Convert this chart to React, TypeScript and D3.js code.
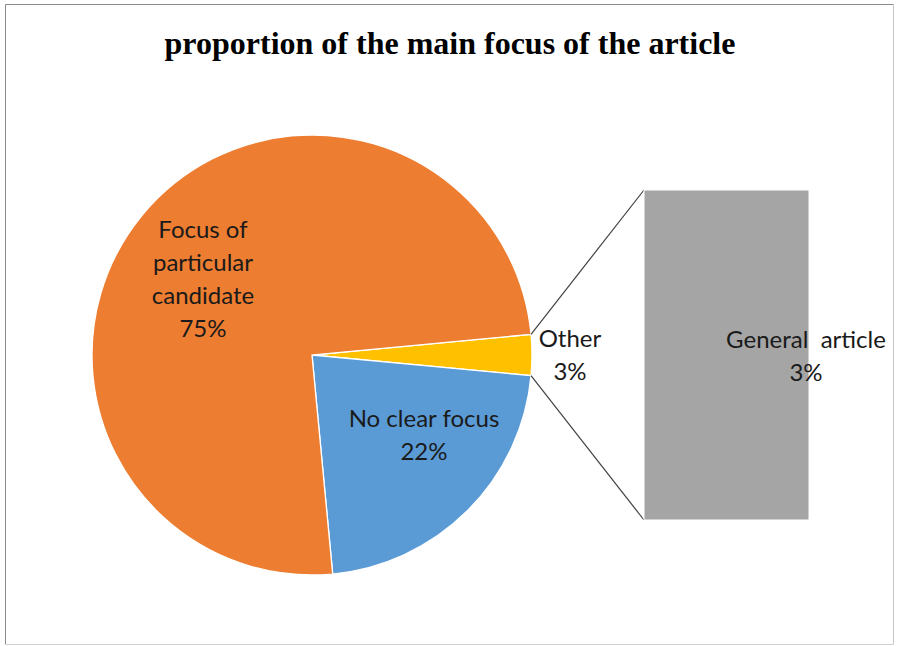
import React from "react";
import * as d3 from "d3";

const TITLE = "proportion of the main focus of the article";
const pieCategories = ["Focus of particular candidate", "No clear focus", "Other"];
const pieValues = [75, 22, 3];
const pieLabelLines = [["Focus of", "particular", "candidate", "75%"], ["No clear focus", "22%"], ["Other", "3%"]];
const pieColors = ["#ED7D31", "#5B9BD5", "#FFC000"];
const barCategories = ["General article"];
const barValues = [3];
const barLabelLines = [["General  article", "3%"]];
const barColors = ["#A5A5A5"];

const W = 897, H = 646;
const cx = 312, cy = 355, R = 220;
const FONT = "Lato, 'Liberation Sans', sans-serif";

export default function App() {
  const total = d3.sum(pieValues);
  const otherIdx = 2;
  const otherFrac = pieValues[otherIdx] / total;
  const start = Math.PI / 2 - otherFrac * Math.PI;
  const order = [2, 1, 0];
  const pie = d3.pie<number>().sort(null).value((i) => pieValues[i]).startAngle(start).endAngle(start + 2 * Math.PI);
  const arcs = pie(order);
  const arcGen = d3.arc<d3.PieArcDatum<number>>().innerRadius(0).outerRadius(R);

  const otherArc = arcs.find((a) => a.data === otherIdx)!;
  const pt = (ang: number) => [cx + R * Math.sin(ang), cy - R * Math.cos(ang)];
  const pTop = pt(otherArc.startAngle);
  const pBot = pt(otherArc.endAngle);

  const barX0 = 644, barX1 = 809;
  const yScale = d3.scaleLinear().domain([0, d3.sum(barValues)]).range([520, 190]);

  const pieLabelPos = [[203, 238], [424, 427], [570, 347]];
  const barLabelPos = [[806, 348]];
  const lh = 33;

  let acc = 0;
  return (
    <svg width={W} height={H} style={{ position: "absolute", left: 0, top: 0, display: "block" }}>
      <rect x={0} y={0} width={W} height={H} fill="#fff" />
      <line x1={5.5} y1={4.5} x2={893.5} y2={4.5} stroke="#8a8a8a" />
      <line x1={5.5} y1={4.5} x2={5.5} y2={644.5} stroke="#8a8a8a" />
      <line x1={893.5} y1={4.5} x2={893.5} y2={644.5} stroke="#c8c8c8" />
      <line x1={5.5} y1={644.5} x2={893.5} y2={644.5} stroke="#d0d0d0" />
      <text x={450} y={54} textAnchor="middle" fontFamily="'Liberation Serif', 'Times New Roman', serif" fontWeight="bold" fontSize={32} fill="#000">
        {TITLE}
      </text>
      {arcs.map((a) => (
        <path key={pieCategories[a.data]} d={arcGen(a) || ""} transform={`translate(${cx},${cy})`} fill={pieColors[a.data]} stroke="#fff" strokeWidth={1.3} />
      ))}
      <line x1={pTop[0]} y1={pTop[1]} x2={barX0} y2={yScale(d3.sum(barValues))} stroke="#404040" strokeWidth={1.2} />
      <line x1={pBot[0]} y1={pBot[1]} x2={barX0} y2={yScale(0)} stroke="#404040" strokeWidth={1.2} />
      {barValues.map((v, i) => {
        const y0 = yScale(acc);
        acc += v;
        const y1 = yScale(acc);
        return <rect key={barCategories[i]} x={barX0} y={y1} width={barX1 - barX0} height={y0 - y1} fill={barColors[i]} stroke="#fff" strokeWidth={1} />;
      })}
      {pieLabelLines.map((lines, i) => (
        <text key={"pl" + i} textAnchor="middle" fontFamily={FONT} fontSize={24} fill="#1a1a1a">
          {lines.map((l, j) => (
            <tspan key={j} x={pieLabelPos[i][0]} y={pieLabelPos[i][1] + j * lh}>{l}</tspan>
          ))}
        </text>
      ))}
      {barLabelLines.map((lines, i) => (
        <text key={"bl" + i} textAnchor="middle" fontFamily={FONT} fontSize={24} fill="#1a1a1a" style={{ whiteSpace: "pre" }}>
          {lines.map((l, j) => (
            <tspan key={j} x={barLabelPos[i][0]} y={barLabelPos[i][1] + j * lh}>{l}</tspan>
          ))}
        </text>
      ))}
    </svg>
  );
}
